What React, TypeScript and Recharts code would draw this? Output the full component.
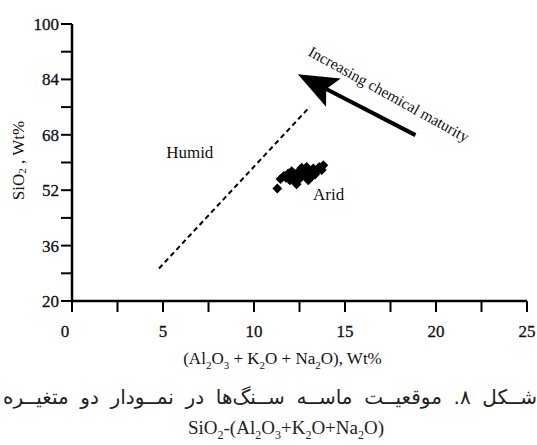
import React from "react";
import {
  ScatterChart, Scatter, XAxis, YAxis, ReferenceLine, ReferenceDot, Label,
} from "recharts";

// sample points
const alkaliWt = [
  11.28, 11.46, 11.64, 11.88, 12.07, 12.16, 12.25, 12.43, 12.52, 12.71, 12.8,
  12.98, 13.07, 13.26, 13.35, 13.59, 13.72, 13.81, 12.34, 11.97, 12.89, 12.62,
  11.75, 12.55, 13.15, 13.45,
];
const silicaWt = [
  52.5, 55.2, 56.1, 56.8, 57.5, 55.9, 54.4, 57.3, 55.4, 57.8, 56.3,
  54.9, 57.5, 58.3, 56.5, 58.7, 57.8, 59.2, 53.7, 54.9, 58.7, 58.5,
  55.6, 56.6, 55.8, 57.4,
];

const xTicks = [0, 2.5, 5, 7.5, 10, 12.5, 15, 17.5, 20, 22.5, 25];
const yTicks = [20, 28, 36, 44, 52, 60, 68, 76, 84, 92, 100];
const xLabelled = [0, 5, 10, 15, 20, 25];
const yLabelled = [20, 36, 52, 68, 84, 100];

// humid / arid divide and maturity arrow (tail -> tip)
const boundary = [{ x: 4.78, y: 29.4 }, { x: 13.07, y: 76.1 }];
const maturityArrow = [{ x: 18.87, y: 67.9 }, { x: 12.41, y: 85.5 }];

const fieldLabels = [
  { text: "Humid", x: 6.47, y: 63.0 },
  { text: "Arid", x: 14.1, y: 50.9 },
];
const arrowNote = { text: "Increasing chemical maturity", x: 17.42, y: 79.8, angle: 29 };

const points = alkaliWt.map((x, i) => ({ x, y: silicaWt[i] }));

const SERIF = "'Liberation Serif', 'Times New Roman', serif";
const INK = "#111";

function Diamond(props: any) {
  const { cx, cy } = props;
  const r = 5;
  return (
    <polygon
      points={`${cx},${cy - r} ${cx + r},${cy} ${cx},${cy + r} ${cx - r},${cy}`}
      fill="#000"
    />
  );
}

function ArrowShape(props: any) {
  const { x1, y1, x2, y2 } = props;
  const dx = x2 - x1;
  const dy = y2 - y1;
  const len = Math.hypot(dx, dy) || 1;
  const ux = dx / len;
  const uy = dy / len;
  const px = -uy;
  const py = ux;
  const headLen = 40, notch = 32, half = 16;
  const bx = x2 - ux * headLen, by = y2 - uy * headLen;
  const nx = x2 - ux * notch, ny = y2 - uy * notch;
  return (
    <g>
      <line x1={x1} y1={y1} x2={nx} y2={ny} stroke="#000" strokeWidth={4} />
      <polygon
        points={`${x2},${y2} ${bx + px * half},${by + py * half} ${nx},${ny} ${bx - px * half},${by - py * half}`}
        fill="#000"
      />
    </g>
  );
}

function XTick(props: any) {
  const { x, y, payload } = props;
  if (!xLabelled.includes(payload.value)) return null;
  return (
    <text
      x={payload.value === 0 ? x - 7 : x}
      y={y}
      dy="0.71em"
      textAnchor="middle"
      fontFamily={SERIF}
      fontSize={17}
      fill={INK}
      stroke={INK}
      strokeWidth={0.3}
    >
      {payload.value}
    </text>
  );
}

function YTitle(props: any) {
  const vb = props.viewBox;
  const cx = vb.x + 6;
  const cy = vb.y + vb.height / 2 - 2;
  return (
    <text
      x={cx}
      y={cy}
      transform={`rotate(-90 ${cx} ${cy})`}
      textAnchor="middle"
      dominantBaseline="central"
      fontFamily={SERIF}
      fontSize={17}
      fill={INK}
    >
      <tspan>SiO</tspan>
      <tspan dy={4} fontSize={11}>2</tspan>
      <tspan dy={-4}> , Wt%</tspan>
    </text>
  );
}

function XTitle(props: any) {
  const vb = props.viewBox;
  const cx = vb.x + vb.width / 2 - 17;
  return (
    <text x={cx} y={364} textAnchor="middle" fontFamily={SERIF} fontSize={17} fill={INK}>
      <tspan>(Al</tspan>
      <tspan dy={5} fontSize={11}>2</tspan>
      <tspan dy={-5}>O</tspan>
      <tspan dy={5} fontSize={11}>3</tspan>
      <tspan dy={-5}> + K</tspan>
      <tspan dy={5} fontSize={11}>2</tspan>
      <tspan dy={-5}>O + Na</tspan>
      <tspan dy={5} fontSize={11}>2</tspan>
      <tspan dy={-5}>O), Wt%</tspan>
    </text>
  );
}

const sub: React.CSSProperties = { fontSize: 12, position: "relative", top: 5 };

export default function App() {
  return (
    <div style={{ position: "absolute", left: 0, top: 0, width: 537, height: 445, background: "#fff", overflow: "hidden" }}>
      <ScatterChart width={537} height={445} margin={{ top: 24, right: 10, left: 12, bottom: 100 }}>
        <XAxis
          type="number"
          dataKey="x"
          domain={[0, 25]}
          ticks={xTicks}
          interval={0}
          tick={<XTick />}
          tickSize={11}
          tickMargin={13}
          height={44}
          axisLine={{ stroke: "#000", strokeWidth: 2.5 }}
          tickLine={{ stroke: "#000", strokeWidth: 2 }}
        >
          <Label content={<XTitle />} />
        </XAxis>
        <YAxis
          type="number"
          dataKey="y"
          domain={[20, 100]}
          ticks={yTicks}
          interval={0}
          width={60}
          tickSize={11}
          tickMargin={2}
          tickFormatter={(v: number) => (yLabelled.includes(v) ? String(v) : "")}
          tick={{ fontFamily: SERIF, fontSize: 17, fill: INK, stroke: INK, strokeWidth: 0.3 }}
          axisLine={{ stroke: "#000", strokeWidth: 2.5 }}
          tickLine={{ stroke: "#000", strokeWidth: 2 }}
        >
          <Label content={<YTitle />} />
        </YAxis>
        <ReferenceLine
          segment={boundary}
          stroke="#000"
          strokeWidth={2}
          strokeDasharray="5 3.5"
        />
        <ReferenceLine segment={maturityArrow} shape={ArrowShape} />
        {fieldLabels.map((f) => (
          <ReferenceDot
            key={f.text}
            x={f.x}
            y={f.y}
            r={0}
            shape={(p: any) => (
              <text
                x={p.cx}
                y={p.cy}
                textAnchor="middle"
                dominantBaseline="central"
                fontFamily={SERIF}
                fontSize={17}
                fill={INK}
              >
                {f.text}
              </text>
            )}
          />
        ))}
        <ReferenceDot
          x={arrowNote.x}
          y={arrowNote.y}
          r={0}
          shape={(p: any) => (
            <text
              x={p.cx}
              y={p.cy}
              transform={`rotate(${arrowNote.angle} ${p.cx} ${p.cy})`}
              textAnchor="middle"
              dominantBaseline="central"
              fontFamily={SERIF}
              fontSize={15.5}
              fill={INK}
            >
              {arrowNote.text}
            </text>
          )}
        />
        <Scatter data={points} shape={<Diamond />} isAnimationActive={false} />
      </ScatterChart>

      <div
        style={{
          position: "absolute", top: 384, left: 3, width: 534, direction: "rtl",
          fontFamily: "'DejaVu Sans', sans-serif", fontSize: 20, lineHeight: "26px",
          color: "#222", textAlign: "justify", textAlignLast: "justify", whiteSpace: "nowrap",
        }}
      >
        شــکل ۸. موقعیــت ماســه ســنگ‌ها در نمــودار دو متغیــره
      </div>
      <div
        style={{
          position: "absolute", top: 417, left: 86, width: 400, textAlign: "center",
          fontFamily: SERIF, fontSize: 19, lineHeight: "22px", color: "#222",
        }}
      >
        SiO<span style={sub}>2</span>-(Al<span style={sub}>2</span>O<span style={sub}>3</span>+K
        <span style={sub}>2</span>O+Na<span style={sub}>2</span>O)
      </div>
    </div>
  );
}
